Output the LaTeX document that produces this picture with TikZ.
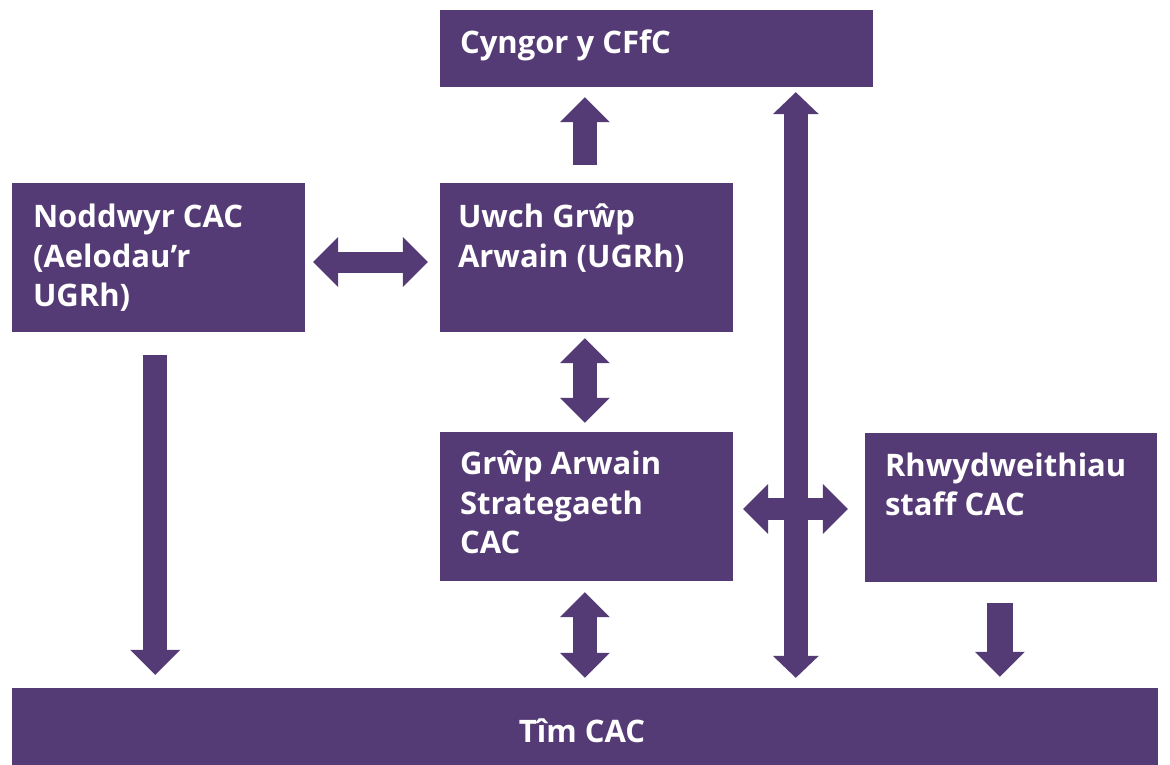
\documentclass[tikz,border=0pt]{standalone}
\usepackage{fontspec}
\setmainfont{Open Sans}
\usetikzlibrary{calc,arrows.meta}
\definecolor{purp}{RGB}{85,59,117}
\tikzset{
  box/.style={fill=purp, draw=none, inner sep=0pt, anchor=center},
  txt/.style={text=white, inner sep=0pt, align=left, font=\fontsize{31}{39.7}\selectfont\bfseries},
  tipA/.tip={Triangle[length=25pt, width=50pt, line width=0pt]},
  tipB/.tip={Triangle[length=22pt, width=46pt, line width=0pt]},
  sarrow/.style={draw=purp, line width=24pt, -tipA},
  darrow/.style={draw=purp, line width=24pt, tipA-tipA},
}
\begin{document}
\begin{tikzpicture}[x=1pt, y=-1pt]
\useasboundingbox (0,0) rectangle (1170,765);
% boxes
\node[box, minimum width=433pt, minimum height=77pt] (cyngor) at (656.5,48.5) {};
\node[box, minimum width=293pt, minimum height=149pt] (noddwyr) at (158.5,257.5) {};
\node[box, minimum width=293pt, minimum height=149pt] (uwch) at (586.5,257.5) {};
\node[box, minimum width=293pt, minimum height=149pt] (grwp) at (586.5,506.5) {};
\node[box, minimum width=292pt, minimum height=149pt] (rhwyd) at (1011,507.5) {};
\node[box, minimum width=1146pt, minimum height=77pt] (tim) at (585,726.5) {};
% texts (anchored at the baseline of the last line)
\node[txt, anchor=base west] (cyngor-t) at ($(cyngor.north west)+(20,44)$) {Cyngor y CFfC};
\node[txt, anchor=base west] (noddwyr-t) at ($(noddwyr.north west)+(21,124)$) {Noddwyr CAC\\(Aelodau’r\\UGRh)};
\node[txt, anchor=base west] (uwch-t) at ($(uwch.north west)+(18,84.5)$) {Uwch Grŵp\\Arwain (UGRh)};
\node[txt, anchor=base west] (grwp-t) at ($(grwp.north west)+(20,122)$) {Grŵp Arwain\\Strategaeth\\CAC};
\node[txt, anchor=base west] (rhwyd-t) at ($(rhwyd.north west)+(20,83)$) {Rhwydweithiau\\staff CAC};
\node[txt, anchor=base] (tim-t) at ($(tim.north)+(-3,55)$) {Tîm CAC};
% arrows
\draw[sarrow] ($(uwch.north west)+(145,-18)$) -- ($(cyngor.south west)+(145,10)$);
\draw[darrow, tipB-tipB] ($(cyngor.south west)+(356,5)$) -- ($(tim.north west)+(784,-10)$);
\draw[darrow, line width=21pt] ($(noddwyr.east)+(8,4.5)$) -- ($(uwch.west)+(-12,4.5)$);
\draw[darrow] ($(uwch.south west)+(145,6)$) -- ($(grwp.north west)+(145,-9)$);
\draw[darrow] ($(grwp.south west)+(145,11)$) -- ($(tim.north west)+(573,-10)$);
\draw[darrow, line width=22pt] ($(grwp.east)+(10,2.5)$) -- ($(rhwyd.west)+(-17,1.5)$);
\draw[sarrow] ($(noddwyr.south west)+(143.5,23)$) -- ($(tim.north west)+(143.5,-13)$);
\draw[sarrow, line width=26pt] ($(rhwyd.south west)+(135,21)$) -- ($(tim.north west)+(988,-11)$);
\end{tikzpicture}
\end{document}
